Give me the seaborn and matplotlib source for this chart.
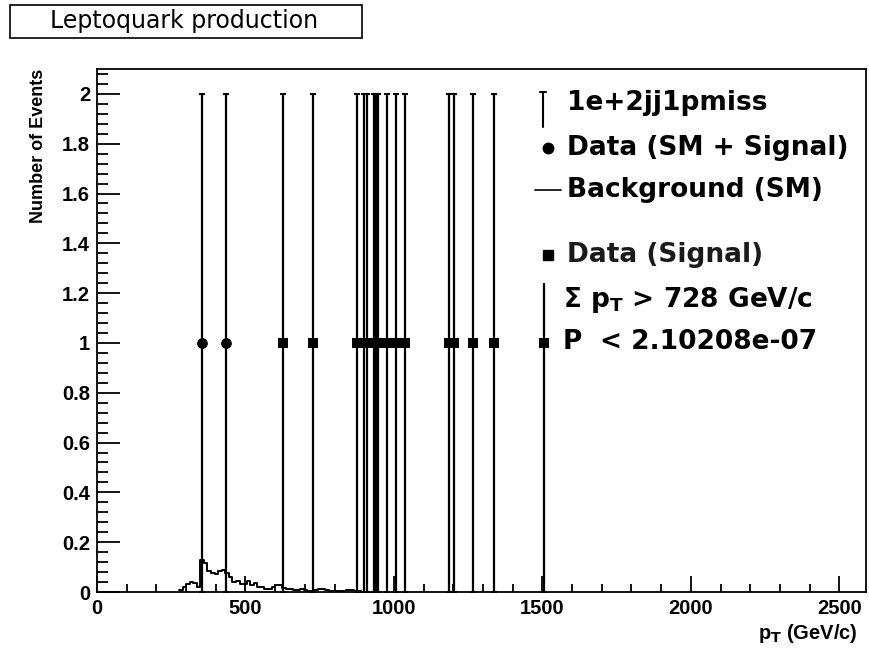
import matplotlib
matplotlib.use("Agg")
import matplotlib.pyplot as plt
import seaborn as sns
import pandas as pd
from matplotlib.patches import Rectangle
from matplotlib.lines import Line2D
from matplotlib.ticker import MultipleLocator, FuncFormatter

# ---------------- data ----------------
sm_signal_pt = [354, 434]
sm_signal_counts = [1, 1]
sm_signal_err = [1, 1]

signal_pt = [625, 728, 874, 899, 910, 932, 940, 947, 977, 1006, 1037,
             1186, 1203, 1267, 1337, 1505]
signal_counts = [1, 1, 1, 1, 1, 1, 1, 1, 1, 1, 1, 1, 1, 1, 1, 1]
signal_err = [1, 1, 1, 1, 1, 1, 1, 1, 1, 1, 1, 1, 1, 1, 1, 1]

bg_bin_width = 12
bg_centers = [282, 294, 306, 318, 330, 342, 354, 366, 378, 390, 402, 414,
              426, 438, 450, 462, 474, 486, 498, 510, 522, 534, 546, 558,
              570, 582, 594, 606, 618, 630, 642, 654, 666, 678, 690, 702,
              714, 726, 738, 750, 762, 774, 786, 798, 810, 822, 834, 846,
              858, 870, 882, 894]
bg_values = [0.008, 0.020, 0.034, 0.040, 0.038, 0.022, 0.130, 0.118, 0.085,
             0.075, 0.072, 0.085, 0.089, 0.075, 0.060, 0.040, 0.044, 0.031,
             0.033, 0.046, 0.027, 0.038, 0.021, 0.022, 0.011, 0.012, 0.022,
             0.030, 0.028, 0.017, 0.014, 0.011, 0.010, 0.008, 0.012, 0.010,
             0.006, 0.004, 0.008, 0.013, 0.012, 0.009, 0.006, 0.004, 0.003,
             0.004, 0.003, 0.007, 0.009, 0.006, 0.003, 0.002]

x_ticks = [0, 500, 1000, 1500, 2000, 2500]
y_ticks = [0, 0.2, 0.4, 0.6, 0.8, 1.0, 1.2, 1.4, 1.6, 1.8, 2.0]

title_text = "Leptoquark production"
channel_label = "1e+2jj1pmiss"
legend_labels = ["Data (SM + Signal)", "Background (SM)", "Data (Signal)"]
cut_text = r"Σ p$_{\mathbf{T}}$ > 728 GeV/c"
prob_text = "< 2.10208e-07"

# ---------------- style ----------------
sns.set_style("ticks")
plt.rcParams["font.family"] = ["Liberation Sans", "DejaVu Sans"]
plt.rcParams["text.color"] = "black"
plt.rcParams["axes.labelcolor"] = "black"
plt.rcParams["mathtext.fontset"] = "custom"
plt.rcParams["mathtext.bf"] = "DejaVu Sans:bold"
plt.rcParams["mathtext.rm"] = "DejaVu Sans:bold"
plt.rcParams["mathtext.default"] = "bf"

W, H = 869, 652
fig = plt.figure(figsize=(W / 100, H / 100), dpi=100)
fig.patch.set_facecolor("white")


def fx(px):
    return px / W


def fy(py):
    return 1 - py / H


ax_l, ax_r, ax_t, ax_b = 97, 866, 69, 592
ax = fig.add_axes([fx(ax_l), fy(ax_b), (ax_r - ax_l) / W, (ax_b - ax_t) / H])

bg_df = pd.DataFrame({"pt": bg_centers, "w": bg_values})
lo = bg_centers[0] - bg_bin_width / 2
hi = bg_centers[-1] + bg_bin_width / 2
sns.histplot(data=bg_df, x="pt", weights="w", binwidth=bg_bin_width,
             binrange=(lo, hi), element="step", fill=False, color="black",
             linewidth=1.4, ax=ax)

all_pt = sm_signal_pt + signal_pt
all_counts = sm_signal_counts + signal_counts
all_err = sm_signal_err + signal_err
ax.errorbar(all_pt, all_counts, yerr=all_err, fmt="none", ecolor="black",
            elinewidth=1.6, capsize=2.5, capthick=1.5, zorder=3)

sns.scatterplot(x=sm_signal_pt, y=sm_signal_counts, marker="o", s=60,
                color="black", edgecolor="black", linewidth=0, ax=ax, zorder=4)
sns.scatterplot(x=signal_pt, y=signal_counts, marker="s", s=48,
                color="black", edgecolor="black", linewidth=0, ax=ax, zorder=4)

ax.set_xlim(0, 2590)
ax.set_ylim(0, 2.1)
ax.set_xticks(x_ticks)
ax.set_yticks(y_ticks)
ax.xaxis.set_minor_locator(MultipleLocator(100))
ax.yaxis.set_minor_locator(MultipleLocator(0.04))
ax.yaxis.set_major_formatter(FuncFormatter(lambda v, p: f"{v:g}"))
ax.tick_params(axis="both", which="both", direction="in", top=False,
               right=False, width=1.3, colors="black", labelsize=14.5)
ax.tick_params(axis="x", which="major", length=11.5, pad=5)
ax.tick_params(axis="x", which="minor", length=5.8)
ax.tick_params(axis="y", which="major", length=16.5, pad=5)
ax.tick_params(axis="y", which="minor", length=8)
for lab in ax.get_xticklabels() + ax.get_yticklabels():
    lab.set_fontweight("bold")
for sp in ax.spines.values():
    sp.set_visible(True)
    sp.set_linewidth(1.3)
    sp.set_color("black")

ax.set_xlabel(r"p$_{\mathbf{T}}$ (GeV/c)", fontsize=14.5, fontweight="bold",
              ha="right", va="top", color="black")
ax.xaxis.set_label_coords((858 - ax_l) / (ax_r - ax_l), -(622 - ax_b) / (ax_b - ax_t))
ax.set_ylabel("Number of Events", loc="top", fontsize=13,
              fontweight="bold", labelpad=11, color="black")

# ---------------- title box ----------------
fig.patches.append(Rectangle((fx(10), fy(38)), 352 / W, 33 / H,
                             transform=fig.transFigure, facecolor="white",
                             edgecolor="black", linewidth=1.2, zorder=2))
fig.text(fx(184), fy(21), title_text, ha="center", va="center",
         fontsize=17, family="DejaVu Sans", color="black", zorder=3)

# ---------------- legend ----------------
fig.patches.append(Rectangle((fx(522), fy(283)), (864 - 522) / W, (283 - 72) / H,
                             transform=fig.transFigure, facecolor="white",
                             edgecolor="none", zorder=2))
leg_font = dict(fontsize=19, fontweight="bold", family="DejaVu Sans",
                va="center", ha="left", color="black", zorder=4)
# error-bar symbol
fig.lines.append(Line2D([fx(543), fx(543)], [fy(92), fy(127)],
                        transform=fig.transFigure, color="black", lw=1.5, zorder=3))
fig.lines.append(Line2D([fx(540), fx(546)], [fy(92), fy(92)],
                        transform=fig.transFigure, color="black", lw=1.5, zorder=3))
fig.text(fx(567), fy(103), channel_label, **leg_font)
# circle
fig.lines.append(Line2D([fx(548)], [fy(148)], transform=fig.transFigure,
                        marker="o", markersize=7.5, color="black", lw=0, zorder=3))
fig.text(fx(567), fy(148), legend_labels[0], **leg_font)
# background line
fig.lines.append(Line2D([fx(535), fx(561)], [fy(190), fy(190)],
                        transform=fig.transFigure, color="black", lw=1.2, zorder=3))
fig.text(fx(567), fy(190), legend_labels[1], **leg_font)
# square
fig.lines.append(Line2D([fx(548)], [fy(255)], transform=fig.transFigure,
                        marker="s", markersize=6.5, color="black", lw=0, zorder=3))
leg_font2 = dict(leg_font)
leg_font2["fontweight"] = "semibold"
leg_font2["color"] = "#1a1a1a"
fig.text(fx(567), fy(255), legend_labels[2], **leg_font2)

fig.text(fx(563), fy(300), cut_text, **leg_font)
fig.text(fx(563), fy(342), "P", **leg_font)
fig.text(fx(600), fy(342), prob_text, **leg_font)

fig.savefig("out.png", dpi=100, facecolor="white")
